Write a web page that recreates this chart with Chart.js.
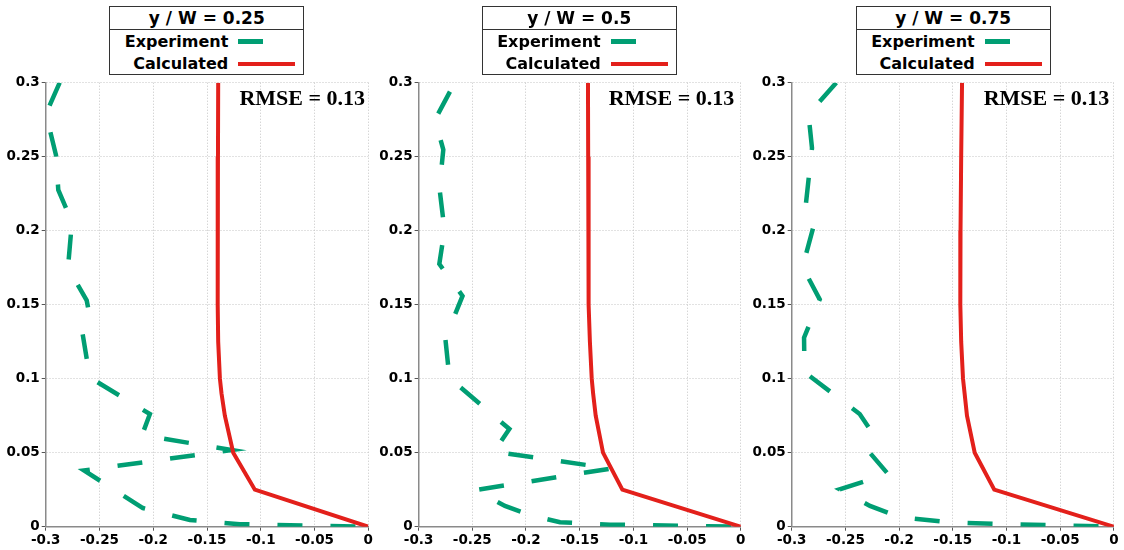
<!DOCTYPE html>
<html lang="en">
<head>
<meta charset="utf-8">
<title>Perfiles - RMSE</title>
<script src="https://cdn.jsdelivr.net/npm/chart.js@4.4.1/dist/chart.umd.min.js"></script>
<style>
    html, body { margin: 0; padding: 0; background: #fff; }
    #lienzo { position: relative; width: 1124px; height: 550px; overflow: hidden; background: #fff; }
    .panel { position: absolute; top: 0; }
    .leyenda {
        position: absolute; top: 6px; width: 193px; height: 67px;
        border: 1px solid #333; background: #fff;
        font-family: "DejaVu Sans", Verdana, sans-serif; font-weight: bold; color: #000;
    }
    .leyenda .titulo {
        position: absolute; left: 0; top: 0; width: 193px; height: 22px;
        border-bottom: 1px solid #333; text-align: center;
        font-size: 17px; line-height: 22px;
    }
    .leyenda .fila {
        position: absolute; left: 0; width: 118px; text-align: right;
        font-size: 16px; line-height: 20px;
    }
    .leyenda .muestra { position: absolute; left: 128px; height: 4.5px; }
    .rmse {
        position: absolute; top: 87px; text-align: right; white-space: nowrap;
        font-family: "Liberation Serif", "Times New Roman", serif; font-weight: bold;
        font-size: 22px; line-height: 22px; color: #000;
    }
</style>
</head>
<body>
<div id="lienzo"></div>
<script>
// ejes
const valoresY = [0, 0.05, 0.1, 0.15, 0.2, 0.25, 0.3];
const valoresX = [-0.3, -0.25, -0.2, -0.15, -0.1, -0.05, 0];

const titulos = ['y / W = 0.25', 'y / W = 0.5', 'y / W = 0.75'];
const etiquetasRmse = ['RMSE = 0.13', 'RMSE = 0.13', 'RMSE = 0.13'];
const nombreExp = 'Experiment';
const nombreCalc = 'Calculated';

// Experiment, y / W = 0.25
const exp1X = [-0.287, -0.2998, -0.2904, -0.2883, -0.2756, -0.2793, -0.2619, -0.2598, -0.2658, -0.259, -0.2031, -0.2104, -0.1269, -0.2644, -0.2096, -0.1659, -0.1194, 0];
const exp1Y = [0.300, 0.279, 0.251, 0.2275, 0.2059, 0.1748, 0.153, 0.145, 0.1309, 0.1008, 0.0761, 0.0619, 0.0518, 0.038, 0.0126, 0.0045, 0.0017, 0];

// Experiment, y / W = 0.5
const exp2X = [-0.2708, -0.2847, -0.277, -0.2806, -0.2759, -0.2807, -0.2591, -0.2751, -0.2713, -0.2155, -0.2299, -0.1209, -0.2466, -0.2196, -0.1963, -0.1683, -0.1218, 0];
const exp2Y = [0.294, 0.275, 0.2547, 0.2289, 0.2005, 0.1775, 0.1559, 0.1272, 0.1005, 0.066, 0.0507, 0.0393, 0.0248, 0.014, 0.0079, 0.003, 0.0014, 0];

// Experiment, y / W = 0.75
const exp3X = [-0.2585, -0.2844, -0.2811, -0.2867, -0.2788, -0.2899, -0.2739, -0.2885, -0.2881, -0.2367, -0.2266, -0.228, -0.2103, -0.2553, -0.2271, -0.1992, -0.1526, -0.106, 0];
const exp3Y = [0.300, 0.2788, 0.2559, 0.2187, 0.2052, 0.1755, 0.1536, 0.1278, 0.1045, 0.0761, 0.0653, 0.0506, 0.0356, 0.0253, 0.014, 0.0064, 0.0029, 0.0018, 0];

// Calculated (mismas alturas en los tres paneles)
const calcY = [0.3, 0.25, 0.2, 0.15, 0.125, 0.1, 0.09, 0.075, 0.05, 0.025, 0];
const calc1X = [-0.1396, -0.1398, -0.14, -0.1401, -0.1396, -0.138, -0.1365, -0.1334, -0.1256, -0.1055, 0];
const calc2X = [-0.1423, -0.1421, -0.142, -0.1414, -0.1405, -0.1388, -0.1375, -0.1351, -0.1283, -0.1103, 0];
const calc3X = [-0.1414, -0.1422, -0.1428, -0.143, -0.1422, -0.1405, -0.139, -0.1368, -0.1296, -0.1114, 0];

const verde = '#009e73';
const rojo = '#e3201b';

// posicion de cada panel en la pagina
const paneles = [
    { izq: 0,   ancho: 375, ejeY: 45.7, margenDer: 6.5,  leyenda: 109.3, finRmse: 365 },
    { izq: 375, ancho: 374, ejeY: 43.6, margenDer: 8.2,  leyenda: 481.7, finRmse: 734.3 },
    { izq: 749, ancho: 375, ejeY: 42.7, margenDer: 10.1, leyenda: 855.7, finRmse: 1109.3 }
];

function unirPuntos(xs, ys) {
    return xs.map((x, i) => ({ x: x, y: ys[i] }));
}

function fijarTicks(valores) {
    return function(eje) {
        eje.ticks = valores.map(v => ({ value: v }));
    };
}

function formatoTick(valor) {
    return String(Math.round(valor * 1000) / 1000);
}

const fuenteTicks = { family: 'DejaVu Sans', weight: 'bold', size: 13.5 };

function opcionesEje(valores, afterFit) {
    return {
        type: 'linear',
        min: valores[0],
        max: valores[valores.length - 1],
        afterBuildTicks: fijarTicks(valores),
        afterFit: afterFit,
        grid: {
            color: '#c4c4c4',
            lineWidth: 1,
            tickLength: 4,
            tickColor: '#555',
            tickWidth: 1
        },
        border: { display: true, color: '#8a8a8a', width: 1.5, dash: [1, 2] },
        ticks: {
            color: '#000',
            font: fuenteTicks,
            padding: 2,
            maxRotation: 0,
            autoSkip: false,
            callback: formatoTick
        }
    };
}

function crearPanel(i, expX, expY, calcX) {
    const p = paneles[i];
    const lienzo = document.getElementById('lienzo');

    const canvas = document.createElement('canvas');
    canvas.className = 'panel';
    canvas.width = p.ancho;
    canvas.height = 550;
    canvas.style.left = p.izq + 'px';
    canvas.style.width = p.ancho + 'px';
    canvas.style.height = '550px';
    lienzo.appendChild(canvas);

    new Chart(canvas, {
        type: 'scatter',
        data: {
            datasets: [
                {
                    label: nombreCalc,
                    data: unirPuntos(calcX, calcY),
                    showLine: true,
                    borderColor: rojo,
                    backgroundColor: rojo,
                    borderWidth: 4,
                    pointRadius: 0,
                    tension: 0,
                    order: 0
                },
                {
                    label: nombreExp,
                    data: unirPuntos(expX, expY),
                    showLine: true,
                    borderColor: verde,
                    backgroundColor: verde,
                    borderWidth: 4.5,
                    borderDash: [25, 28],
                    borderCapStyle: 'butt',
                    pointRadius: 0,
                    tension: 0,
                    order: 1
                }
            ]
        },
        options: {
            responsive: false,
            animation: false,
            events: [],
            layout: { padding: { top: 82.7, right: p.margenDer, left: 0, bottom: 0 } },
            plugins: {
                legend: { display: false },
                tooltip: { enabled: false }
            },
            scales: {
                x: opcionesEje(valoresX, eje => { eje.height = 23.3; }),
                y: opcionesEje(valoresY, eje => { eje.width = p.ejeY; })
            }
        }
    });

    // cuadro de leyenda
    const caja = document.createElement('div');
    caja.className = 'leyenda';
    caja.style.left = p.leyenda + 'px';

    const titulo = document.createElement('div');
    titulo.className = 'titulo';
    titulo.textContent = titulos[i];
    caja.appendChild(titulo);

    const filas = [
        { texto: nombreExp, color: verde, largo: 25, centro: 34.7 },
        { texto: nombreCalc, color: rojo, largo: 57, centro: 56.8 }
    ];
    filas.forEach(f => {
        const t = document.createElement('div');
        t.className = 'fila';
        t.style.top = (f.centro - 10) + 'px';
        t.textContent = f.texto;
        caja.appendChild(t);

        const m = document.createElement('div');
        m.className = 'muestra';
        m.style.top = (f.centro - 2.25) + 'px';
        m.style.width = f.largo + 'px';
        m.style.background = f.color;
        caja.appendChild(m);
    });
    lienzo.appendChild(caja);

    const rmse = document.createElement('div');
    rmse.className = 'rmse';
    rmse.style.right = (1124 - p.finRmse) + 'px';
    rmse.textContent = etiquetasRmse[i];
    lienzo.appendChild(rmse);
}

document.addEventListener('DOMContentLoaded', function() {
    crearPanel(0, exp1X, exp1Y, calc1X);
    crearPanel(1, exp2X, exp2Y, calc2X);
    crearPanel(2, exp3X, exp3Y, calc3X);
});
</script>
</body>
</html>
